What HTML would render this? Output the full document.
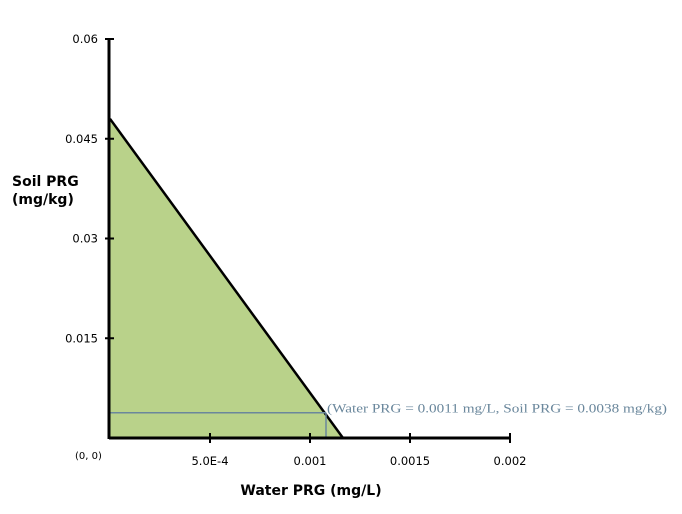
<!DOCTYPE html>
<html><head><meta charset="utf-8"><style>
html,body{margin:0;padding:0;background:#fff;width:682px;height:514px;overflow:hidden}
svg text{font-family:"DejaVu Sans","Liberation Sans",sans-serif}
</style></head><body>
<svg id="chart" width="682" height="514" xmlns="http://www.w3.org/2000/svg"></svg>
<script>
const xTicks=[0.0005,0.001,0.0015,0.002];
const xTickLabels=["5.0E-4","0.001","0.0015","0.002"];
const yTicks=[0.015,0.03,0.045,0.06];
const yTickLabels=["0.015","0.03","0.045","0.06"];
const soilIntercept=[0.048];
const waterIntercept=[0.001165];
const pointWater=[0.00108];
const pointSoil=[0.0038];
const pointLabel=["(Water PRG = 0.0011 mg/L, Soil PRG = 0.0038 mg/kg)"];

const svg=document.getElementById('chart');
const NS='http://www.w3.org/2000/svg';
const X0=110,Y0=438;
const sx=v=>X0+v*200000;
const sy=v=>Y0-v*(399/0.06);
function mk(tag,attrs,txt){const e=document.createElementNS(NS,tag);for(const k in attrs)e.setAttribute(k,attrs[k]);if(txt!==undefined)e.textContent=txt;svg.appendChild(e);return e;}

let area=mk('polygon',{points:`${sx(0)},${sy(soilIntercept[0])} ${sx(waterIntercept[0])},${sy(0)} ${sx(0)},${sy(0)}`,fill:'#b9d28a'});


let ln=mk('line',{x1:sx(0),y1:sy(soilIntercept[0]),x2:sx(waterIntercept[0]),y2:sy(0),stroke:'#000','stroke-width':2.5});


let gh=mk('line',{x1:sx(0),y1:sy(pointSoil[0]),x2:sx(pointWater[0]),y2:sy(pointSoil[0]),stroke:'#6a879c','stroke-width':1.5});


let gv=mk('line',{x1:sx(pointWater[0]),y1:sy(pointSoil[0]),x2:sx(pointWater[0]),y2:sy(0),stroke:'#6a879c','stroke-width':1.5});


let pl=mk('text',{x:sx(pointWater[0])+1,y:sy(pointSoil[0])+0,'font-size':13,fill:'#6a879c',textLength:340,lengthAdjust:'spacingAndGlyphs'},pointLabel[0]);
pl.setAttribute('style','font-family:"Liberation Serif",serif');



let xa=mk('line',{x1:X0-1,y1:Y0,x2:sx(0.002),y2:Y0,stroke:'#000','stroke-width':3});


let ya=mk('line',{x1:X0-1,y1:sy(0.06),x2:X0-1,y2:Y0+1,stroke:'#000','stroke-width':3});



xTicks.forEach((v,i)=>{
  const t=mk('line',{x1:sx(v),y1:Y0-5,x2:sx(v),y2:Y0+5,stroke:'#000','stroke-width':2});
  
  
  const l=mk('text',{x:sx(v),y:Y0+27,'text-anchor':'middle','font-size':11.5,fill:'#000'},xTickLabels[i]);
  
  
});
yTicks.forEach((v,i)=>{
  const t=mk('line',{x1:X0-5,y1:sy(v),x2:X0+4,y2:sy(v),stroke:'#000','stroke-width':2});
  
  
  const l=mk('text',{x:X0-12,y:sy(v)+4,'text-anchor':'end','font-size':11.5,fill:'#000'},yTickLabels[i]);
  
  
});
let o=mk('text',{x:75,y:459,'font-size':10,fill:'#000'},'(0, 0)');


let xt=mk('text',{x:311,y:495,'text-anchor':'middle','font-size':14,'font-weight':'bold',fill:'#000'},'Water PRG (mg/L)');


let yt1=mk('text',{x:12,y:186,'font-size':14,'font-weight':'bold',fill:'#000'},'Soil PRG');


let yt2=mk('text',{x:12,y:204,'font-size':14,'font-weight':'bold',fill:'#000'},'(mg/kg)');


</script>
</body></html>
